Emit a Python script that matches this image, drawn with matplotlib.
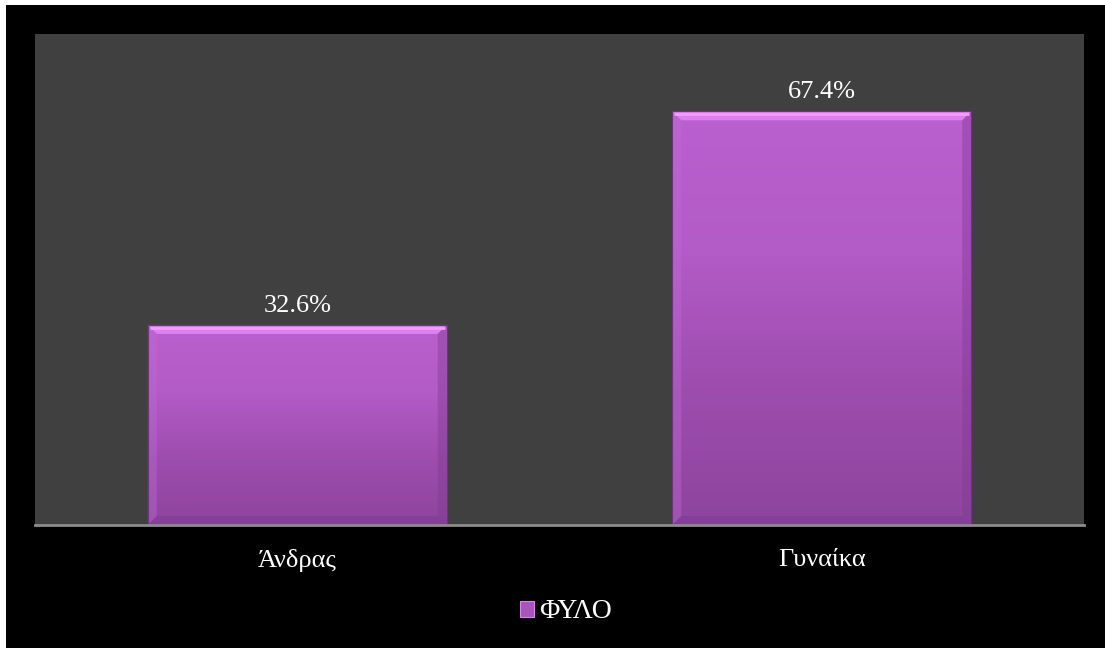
import numpy as np
import matplotlib
matplotlib.use('Agg')
import matplotlib.pyplot as plt
from matplotlib.patches import Rectangle, Polygon
from matplotlib.colors import LinearSegmentedColormap

categories = ['Άνδρας', 'Γυναίκα']
values = [32.6, 67.4]
labels = ['32.6%', '67.4%']
series_name = 'ΦΥΛΟ'

plt.rcParams['font.family'] = ['Liberation Serif', 'DejaVu Serif']

W, H = 1105, 648
fig = plt.figure(figsize=(W / 100, H / 100), dpi=100, facecolor='white')
# black frame, a thin white margin stays at the top and left
fig.patches.append(Rectangle((6 / W, 0), 1, 1 - 5 / H, transform=fig.transFigure,
                             facecolor='black', edgecolor='none', zorder=-5))

ax = fig.add_axes([35 / W, 1 - 525 / H, 1049 / W, 491 / H])
ax.set_facecolor('#404040')
ax.set_xlim(-0.5, 1.5)
ax.set_ylim(0, 80)

bar_w = 0.57
x = np.arange(len(categories))
bars = ax.bar(x, values, width=bar_w, color='#a855bb', zorder=2, linewidth=0)

# pixels -> data units
px_x = 2.0 / 1049
px_y = 80.0 / 491

grad = LinearSegmentedColormap.from_list('barg', ['#8d459e', '#9e4dae', '#b35bc7', '#ba60cf'])
for b in bars:
    x0, y0 = b.get_x(), b.get_y()
    w, h = b.get_width(), b.get_height()
    img = np.linspace(0, 1, 256).reshape(-1, 1)
    im = ax.imshow(img, cmap=grad, origin='lower', aspect='auto',
                   extent=(x0, x0 + w, y0, y0 + h), zorder=3)
    im.set_clip_path(b)

    x1, y1 = x0 + w, y0 + h
    bx, by = 9 * px_x, 9 * px_y
    # bevel edges: top light, left a bit lighter, right and bottom darker
    top = Polygon([(x0, y1), (x1, y1), (x1 - bx, y1 - by), (x0 + bx, y1 - by)],
                  closed=True, facecolor='#e486f5', edgecolor='none', zorder=4, alpha=0.85)
    left = Polygon([(x0, y0), (x0, y1), (x0 + bx, y1 - by), (x0 + bx, y0 + by)],
                   closed=True, facecolor='#c06ad4', edgecolor='none', zorder=4, alpha=0.4)
    right = Polygon([(x1, y0), (x1, y1), (x1 - bx, y1 - by), (x1 - bx, y0 + by)],
                    closed=True, facecolor='#7e3a8e', edgecolor='none', zorder=4, alpha=0.4)
    bottom = Polygon([(x0, y0), (x1, y0), (x1 - bx, y0 + by), (x0 + bx, y0 + by)],
                     closed=True, facecolor='#7a3a8a', edgecolor='none', zorder=4, alpha=0.45)
    for p in (top, left, right, bottom):
        ax.add_patch(p)
    # thin bright line along the top edge
    ax.plot([x0 + 2 * px_x, x1 - 2 * px_x], [y1 - 3 * px_y, y1 - 3 * px_y],
            color='#f59cff', lw=2, zorder=5, solid_capstyle='butt')
    ax.add_patch(Rectangle((x0, y0), w, h, facecolor='none', edgecolor='#6e3380',
                           lw=0.8, zorder=6))

for xi, v, lab in zip(x, values, labels):
    ax.annotate(lab, (xi, v), xytext=(0, 8), textcoords='offset pixels',
                ha='center', va='bottom', color='white', fontsize=19)

for s in ('top', 'left', 'right'):
    ax.spines[s].set_visible(False)
ax.spines['bottom'].set_color('#8c8c8c')
ax.spines['bottom'].set_linewidth(2)
ax.spines['bottom'].set_zorder(7)

ax.set_yticks([])
ax.set_xticks(x)
ax.set_xticklabels(categories, color='white', fontsize=19)
ax.tick_params(axis='x', length=0, pad=17)

handle = Rectangle((0, 0), 1, 1, facecolor='#a855bb', edgecolor='#d88ae8', lw=0.8)
leg = fig.legend([handle], [series_name], loc='center', bbox_to_anchor=(566 / W, 1 - 612 / H),
                 frameon=False, fontsize=20, handlelength=0.5, handleheight=0.5,
                 handletextpad=0.2, labelcolor='white')

fig.savefig('out.png', dpi=100, facecolor=fig.get_facecolor())
